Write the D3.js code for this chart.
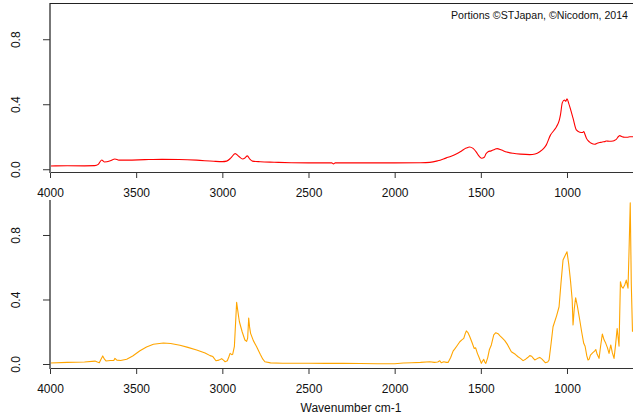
<!DOCTYPE html>
<html>
<head>
<meta charset="utf-8">
<script src="https://cdn.jsdelivr.net/npm/d3@7"></script>
<style>
  html, body { margin: 0; padding: 0; background: #fff; }
  svg { display: block; font-family: "Liberation Sans", Arial, sans-serif; }
</style>
</head>
<body>
<svg id="chart" width="633" height="420"></svg>
<script>
// IR spectra: sample (top, red) and reference (bottom, orange)
const xTicks = [4000, 3500, 3000, 2500, 2000, 1500, 1000];
const yTicks = [0.0, 0.4, 0.8];
const yTickLabels = ["0.0", "0.4", "0.8"];
const xTitle = "Wavenumber cm-1";
const credit = "Portions ©STJapan, ©Nicodom, 2014";

const sampleWavenumber = [4000,3900,3800,3740,3720,3700,3685,3670,3650,3623,3600,3550,3450,3350,3250,3150,3050,3000,2975,2950,2926,2905,2882,2868,2855,2840,2825,2780,2700,2600,2500,2400,2365,2355,2345,2200,2000,1850,1796,1750,1700,1672,1640,1610,1585,1565,1545,1526,1510,1496,1480,1470,1458,1440,1420,1406,1380,1350,1313,1270,1216,1185,1158,1135,1120,1096,1075,1061,1045,1038,1027,1015,1007,1000,990,984,965,946,926,910,903,895,887,870,859,839,825,810,795,780,772,755,733,720,714,700,694,680,665,650,635,617];
const sampleAbsorbance = [0.020,0.021,0.021,0.022,0.030,0.057,0.045,0.046,0.052,0.063,0.056,0.056,0.059,0.061,0.060,0.056,0.049,0.047,0.050,0.070,0.096,0.080,0.063,0.070,0.082,0.062,0.050,0.046,0.043,0.040,0.039,0.039,0.039,0.033,0.039,0.039,0.039,0.040,0.042,0.052,0.070,0.080,0.095,0.114,0.130,0.137,0.128,0.105,0.080,0.068,0.074,0.095,0.108,0.113,0.122,0.127,0.118,0.106,0.098,0.093,0.090,0.094,0.108,0.128,0.150,0.210,0.240,0.262,0.300,0.334,0.410,0.426,0.418,0.434,0.405,0.385,0.314,0.242,0.228,0.226,0.232,0.212,0.190,0.168,0.160,0.154,0.160,0.164,0.168,0.170,0.174,0.172,0.174,0.180,0.184,0.203,0.207,0.200,0.197,0.197,0.200,0.200];

const refWavenumber = [4000,3900,3800,3739,3725,3714,3704,3694,3684,3675,3650,3630,3623,3612,3590,3555,3520,3478,3440,3400,3342,3300,3246,3200,3149,3100,3071,3055,3037,3020,3004,2992,2984,2971,2962,2955,2945,2940,2930,2917,2905,2901,2885,2869,2859,2853,2847,2842,2836,2820,2801,2780,2765,2753,2720,2650,2500,2400,2300,2200,2100,2000,1950,1900,1850,1796,1770,1750,1738,1730,1715,1700,1690,1675,1661,1650,1640,1622,1610,1599,1590,1584,1575,1564,1550,1539,1530,1520,1510,1497,1490,1483,1477,1471,1460,1450,1439,1425,1413,1400,1390,1375,1361,1345,1323,1300,1284,1270,1255,1240,1228,1216,1205,1195,1187,1170,1158,1145,1126,1112,1104,1092,1081,1060,1046,1035,1023,1010,1000,990,980,970,965,958,950,940,926,915,903,895,885,878,871,864,850,840,833,825,814,805,795,785,775,765,756,746,737,727,718,709,698,690,683,675,665,656,646,640,633,627,620];
const refAbsorbance = [0.006,0.010,0.012,0.018,0.012,0.008,0.030,0.050,0.030,0.019,0.022,0.022,0.035,0.024,0.022,0.030,0.050,0.082,0.105,0.122,0.130,0.127,0.116,0.103,0.087,0.068,0.052,0.046,0.020,0.024,0.033,0.022,0.014,0.020,0.045,0.066,0.058,0.060,0.110,0.382,0.290,0.262,0.200,0.149,0.140,0.160,0.285,0.230,0.190,0.145,0.107,0.060,0.030,0.014,0.007,0.005,0.005,0.004,0.004,0.003,0.002,0.002,0.006,0.008,0.010,0.014,0.010,0.012,0.020,0.008,0.014,0.010,0.010,0.040,0.080,0.095,0.110,0.138,0.150,0.159,0.190,0.205,0.195,0.169,0.130,0.097,0.100,0.066,0.040,0.004,0.018,0.029,0.012,0.004,0.040,0.090,0.118,0.180,0.194,0.188,0.176,0.160,0.145,0.120,0.076,0.060,0.045,0.035,0.021,0.030,0.040,0.052,0.048,0.035,0.025,0.035,0.041,0.030,0.008,0.012,0.025,0.130,0.231,0.300,0.355,0.500,0.645,0.675,0.696,0.620,0.520,0.400,0.242,0.340,0.411,0.360,0.273,0.200,0.128,0.110,0.050,0.025,0.030,0.055,0.070,0.080,0.090,0.060,0.035,0.110,0.186,0.150,0.128,0.100,0.066,0.118,0.070,0.035,0.120,0.220,0.110,0.510,0.480,0.470,0.490,0.520,0.470,0.700,1.000,0.500,0.200];

const svg = d3.select("#chart");
const left = 50, right = 633;

const x = d3.scaleLinear().domain([4000, 617]).range([left, right]);

const panels = [
  { top: 3, bottom: 172, yDomain: [-0.017, 1.023], wn: sampleWavenumber, ab: sampleAbsorbance,
    color: "#ff0000", curve: d3.curveMonotoneX, box: true, labelBase: 197 },
  { top: 200, bottom: 368, yDomain: [-0.0248, 1.017], wn: refWavenumber, ab: refAbsorbance,
    color: "#ffa500", curve: d3.curveLinear, box: false, labelBase: 393 }
];

panels.forEach(p => {
  const y = d3.scaleLinear().domain(p.yDomain).range([p.bottom, p.top]);
  const g = svg.append("g");

  // spectrum
  const pts = p.wn.map((w, i) => [w, p.ab[i]]);
  g.append("path")
    .datum(pts)
    .attr("fill", "none")
    .attr("stroke", p.color)
    .attr("stroke-width", 1.1)
    .attr("stroke-linejoin", "round")
    .attr("d", d3.line().x(d => x(d[0])).y(d => y(d[1])).curve(p.curve));

  // x axis
  const xa = g.append("g")
    .attr("transform", `translate(0,${p.bottom})`)
    .call(d3.axisBottom(x).tickValues(xTicks).tickSize(6).tickSizeOuter(0).tickFormat(d3.format("d")));
  xa.select(".domain").attr("stroke", "#333").attr("d", `M${left},0.5H${right}`);
  xa.selectAll(".tick line").attr("stroke", "#333");
  xa.selectAll(".tick text")
    .attr("y", p.labelBase - p.bottom).attr("dy", null)
    .attr("font-size", 12).attr("font-family", "Liberation Sans, Arial, sans-serif").attr("fill", "#111");

  // y axis
  const ya = g.append("g")
    .attr("transform", `translate(${left},0)`)
    .call(d3.axisLeft(y).tickValues(yTicks).tickSize(7).tickSizeOuter(0)
      .tickFormat((d, i) => yTickLabels[i]));
  ya.select(".domain").attr("stroke", "#777").attr("stroke-width", 2)
    .attr("d", `M0,${p.top}V${p.bottom + 1}`);
  ya.selectAll(".tick line").attr("stroke", "#333");
  ya.selectAll(".tick text")
    .attr("x", null).attr("dy", null).attr("y", null)
    .attr("transform", `translate(${20 - left},0) rotate(-90)`)
    .attr("text-anchor", "middle")
    .attr("font-size", 12).attr("font-family", "Liberation Sans, Arial, sans-serif").attr("fill", "#111");

  if (p.box) {
    g.append("line")
      .attr("x1", left).attr("x2", right)
      .attr("y1", p.top + 0.5).attr("y2", p.top + 0.5)
      .attr("stroke", "#222").attr("stroke-width", 1);
  }
});

svg.append("text")
  .attr("x", 628).attr("y", 19)
  .attr("text-anchor", "end")
  .attr("font-size", 10.6)
  .attr("fill", "#111")
  .text(credit);

svg.append("text")
  .attr("x", 351).attr("y", 412)
  .attr("text-anchor", "middle")
  .attr("font-size", 12)
  .attr("fill", "#111")
  .text(xTitle);
</script>
</body>
</html>
